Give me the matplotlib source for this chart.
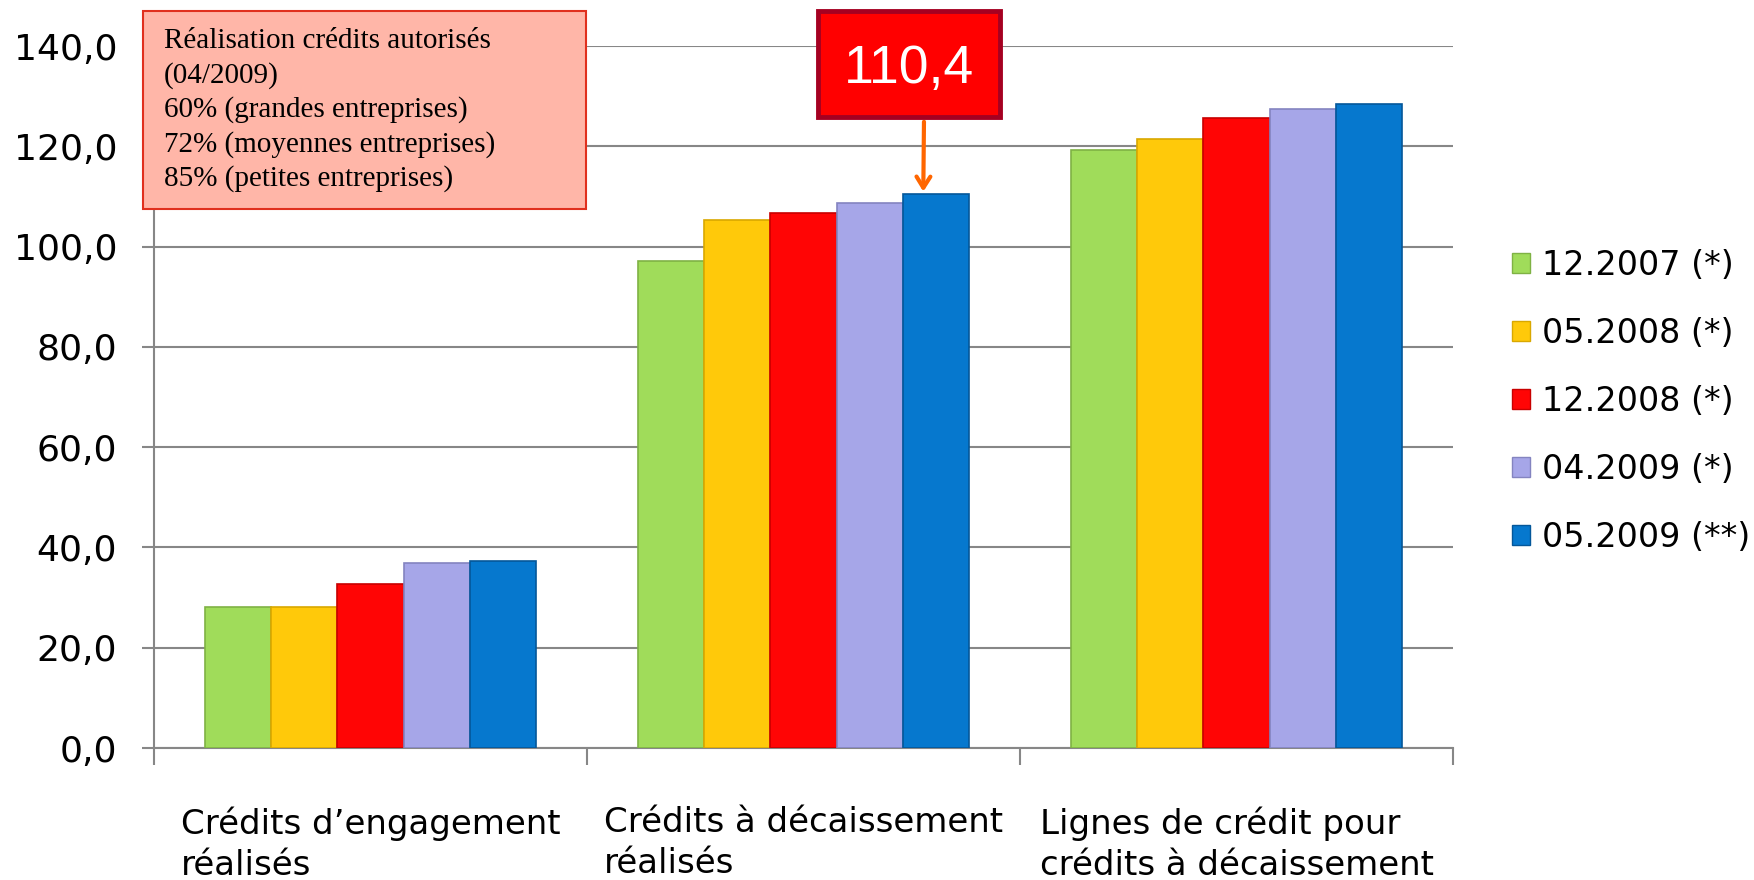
import numpy as np
import matplotlib.pyplot as plt
from matplotlib.patches import Rectangle, Patch
from matplotlib.ticker import FuncFormatter, FixedLocator

categories = ["Crédits d’engagement\nréalisés",
              "Crédits à décaissement\nréalisés",
              "Lignes de crédit pour\ncrédits à décaissement"]
series = ["12.2007 (*)", "05.2008 (*)", "12.2008 (*)", "04.2009 (*)", "05.2009 (**)"]
v_1207 = [28.2, 97.2, 119.3]
v_0508 = [28.1, 105.3, 121.5]
v_1208 = [32.8, 106.7, 125.7]
v_0409 = [36.9, 108.7, 127.5]
v_0509 = [37.2, 110.4, 128.5]
values = [v_1207, v_0508, v_1208, v_0409, v_0509]
colors = ["#A0DC5A", "#FFC90A", "#FF0505", "#A6A6E8", "#0678CE"]
edges = ["#7FB244", "#D9A800", "#C80000", "#8484C0", "#04579A"]
note_lines = ["Réalisation crédits autorisés", "(04/2009)",
              "60% (grandes entreprises)", "72% (moyennes entreprises)",
              "85% (petites entreprises)"]
callout = "110,4"

fig = plt.figure(figsize=(17.54, 8.80), dpi=100)
ax = fig.add_axes([154 / 1754, 1 - 748 / 880, (1453 - 154) / 1754, (748 - 46) / 880])

x = np.arange(len(categories))
w = 0.1533
for i, (vals, c, ec) in enumerate(zip(values, colors, edges)):
    ax.bar(x + (i - 2) * w, vals, width=w, color=c, edgecolor=ec, linewidth=1.2,
           label=series[i], zorder=3)

ax.set_xlim(-0.5, 2.5)
ax.set_ylim(0, 140)
ax.set_yticks(np.arange(0, 141, 20))
ax.yaxis.set_major_formatter(FuncFormatter(lambda v, p: f"{v:.1f}".replace(".", ",")))
ax.grid(axis="y", color="#878787", linewidth=1.5, zorder=0)
for s in ["top", "right"]:
    ax.spines[s].set_visible(False)
for s in ["left", "bottom"]:
    ax.spines[s].set_color("#878787")
    ax.spines[s].set_linewidth(1.5)
ax.tick_params(axis="y", colors="#878787", labelcolor="black", labelsize=26,
               length=8.6, width=1.5, pad=18)

ax.set_xticks(x)
ax.set_xticklabels(categories, fontsize=24.5, linespacing=1.3)
for lab in ax.get_xticklabels():
    lab.set_multialignment("left")
ax.tick_params(axis="x", which="major", length=0, pad=42)
ax.xaxis.set_minor_locator(FixedLocator([-0.5, 0.5, 1.5, 2.5]))
ax.tick_params(axis="x", which="minor", length=12, width=1.5, color="#878787")

# note box
fig.patches.append(Rectangle((143 / 1754, 1 - 209 / 880), 443 / 1754, 198 / 880,
                             transform=fig.transFigure, facecolor="#FFB6A8",
                             edgecolor="#E0301E", linewidth=1.5, zorder=10))
fig.text(164 / 1754, 1 - 28 / 880, "\n".join(note_lines), family="Liberation Serif",
         fontsize=21, va="top", ha="left", linespacing=1.37, zorder=11)

# callout
fig.patches.append(Rectangle((818 / 1754, 1 - 117 / 880), 182 / 1754, 106 / 880,
                             transform=fig.transFigure, facecolor="#FF0000",
                             edgecolor="#A50021", linewidth=3.5, zorder=10))
fig.text(909 / 1754, 1 - 69 / 880, callout, family="Liberation Sans", fontsize=38.5,
         color="white", ha="center", va="center", zorder=11)
ax.annotate("", xy=(x[1] + 2 * w - 0.03, v_0509[1]), xycoords="data",
            xytext=(924 / 1754, 1 - 119 / 880), textcoords="figure fraction",
            arrowprops=dict(arrowstyle="->,head_width=0.5,head_length=0.8",
                            color="#FF6600", lw=3))

handles = [Patch(facecolor=c, edgecolor=ec) for c, ec in zip(colors, edges)]
fig.legend(handles, series, loc="upper left", bbox_to_anchor=(1512 / 1754, 1 - 249 / 880),
           frameon=False, fontsize=24, handlelength=0.55, handleheight=0.55,
           handletextpad=0.35, labelspacing=1.05, borderpad=0, borderaxespad=0)

fig.savefig("out.png", dpi=100)
